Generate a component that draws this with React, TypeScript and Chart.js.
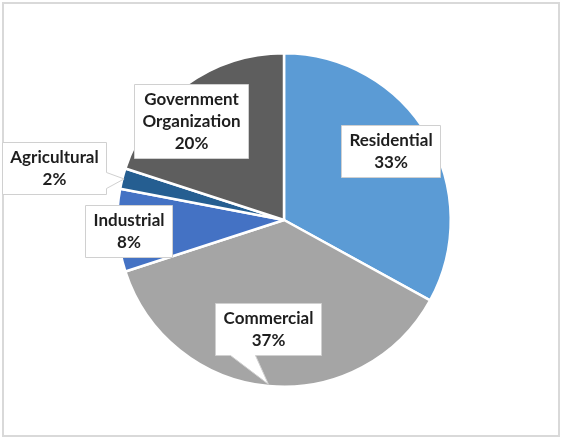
import React, { useEffect, useRef } from "react";
import { Chart, registerables } from "chart.js";

Chart.register(...registerables);

const categories = ["Residential", "Commercial", "Industrial", "Agricultural", "Government\nOrganization"];
const shares = [33, 37, 8, 2, 20];
const pctLabels = ["33%", "37%", "8%", "2%", "20%"];
const colors = ["#5B9BD5", "#A5A5A5", "#4472C4", "#255E91", "#5E5E5E"];

// label box centre relative to pie centre, in units of radius; callout side
const labelPos = [
  { x: 0.64, y: -0.415, tail: "" },
  { x: -0.095, y: 0.655, tail: "bottom" },
  { x: -0.93, y: 0.063, tail: "" },
  { x: -1.38, y: -0.31, tail: "right" },
  { x: -0.56, y: -0.592, tail: "" },
];

const FONT = "bold 17px Lato, 'Open Sans', 'Noto Sans', sans-serif";

const labelPlugin = {
  id: "calloutLabels",
  afterDatasetsDraw(chart: any) {
    const ctx = chart.ctx as CanvasRenderingContext2D;
    const meta = chart.getDatasetMeta(0);
    ctx.save();
    ctx.font = FONT;
    meta.data.forEach((arc: any, i: number) => {
      const { x: cx, y: cy, outerRadius: R, startAngle, endAngle } = arc.getProps(
        ["x", "y", "outerRadius", "startAngle", "endAngle"],
        true
      );
      const lines = [...categories[i].split("\n"), pctLabels[i]];
      const lh = 22;
      let w = 0;
      lines.forEach((l) => (w = Math.max(w, ctx.measureText(l).width)));
      const bw = Math.round(w + 16);
      const bh = lines.length * lh + 8;
      const bx = Math.round(cx + labelPos[i].x * R - bw / 2) + 0.5;
      const by = Math.round(cy + labelPos[i].y * R - bh / 2) + 0.5;
      const mid = (startAngle + endAngle) / 2;
      const tipX = cx + Math.cos(mid) * R * 0.99;
      const tipY = cy + Math.sin(mid) * R * 0.99;
      ctx.beginPath();
      ctx.moveTo(bx, by);
      ctx.lineTo(bx + bw, by);
      if (labelPos[i].tail === "right") {
        ctx.lineTo(bx + bw, by + bh - 22);
        ctx.lineTo(tipX, tipY);
        ctx.lineTo(bx + bw, by + bh - 6);
      }
      ctx.lineTo(bx + bw, by + bh);
      if (labelPos[i].tail === "bottom") {
        ctx.lineTo(bx + 40, by + bh);
        ctx.lineTo(tipX, tipY);
        ctx.lineTo(bx + 15, by + bh);
      }
      ctx.lineTo(bx, by + bh);
      ctx.closePath();
      ctx.fillStyle = "#FFFFFF";
      ctx.fill();
      ctx.strokeStyle = "#D0D0D0";
      ctx.lineWidth = 1;
      ctx.stroke();
      ctx.fillStyle = "#1E1E1E";
      ctx.textAlign = "center";
      ctx.textBaseline = "middle";
      lines.forEach((l, k) => {
        ctx.fillText(l, bx + bw / 2, by + 4 + lh / 2 + k * lh);
      });
    });
    ctx.restore();
  },
};

const framePlugin = {
  id: "frame",
  beforeDraw(chart: any) {
    const ctx = chart.ctx as CanvasRenderingContext2D;
    ctx.save();
    ctx.fillStyle = "#FFFFFF";
    ctx.fillRect(0, 0, chart.width, chart.height);
    ctx.strokeStyle = "#D9D9D9";
    ctx.lineWidth = 2;
    ctx.strokeRect(3, 3, chart.width - 6, chart.height - 6);
    ctx.restore();
  },
};

export default function App() {
  const ref = useRef<HTMLCanvasElement>(null);
  useEffect(() => {
    document.body.style.margin = "0";
    const chart = new Chart(ref.current!, {
      type: "pie",
      data: {
        labels: categories,
        datasets: [
          {
            data: shares,
            backgroundColor: colors,
            borderColor: "#FFFFFF",
            borderWidth: 2.5,
          },
        ],
      },
      options: {
        responsive: false,
        animation: false,
        layout: { padding: { left: 116, right: 110, top: 52, bottom: 51 } },
        plugins: {
          legend: { display: false },
          tooltip: { enabled: false },
        },
      },
      plugins: [framePlugin, labelPlugin],
    });
    return () => chart.destroy();
  }, []);
  return (
    <div style={{ width: 562, height: 439 }}>
      <canvas ref={ref} width={562} height={439} style={{ display: "block" }} />
    </div>
  );
}
